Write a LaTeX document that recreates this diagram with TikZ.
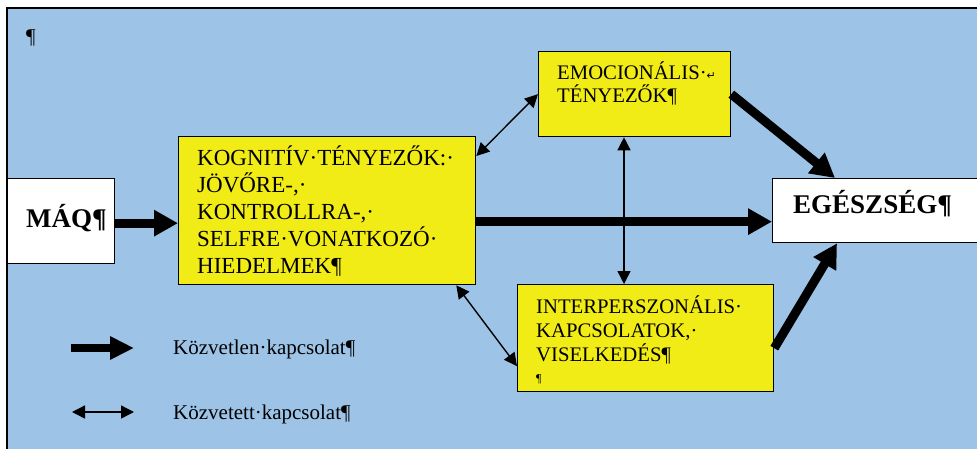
\documentclass[tikz,border=0pt]{standalone}
\usepackage{fontspec}
\setmainfont{Liberation Serif}
\newfontfamily\symfont{DejaVu Sans}
\usetikzlibrary{arrows.meta}
\definecolor{bgblue}{RGB}{157,195,230}
\definecolor{boxyellow}{RGB}{242,236,22}
\tikzset{
  box/.style={draw=black, line width=1.3pt, anchor=north west, inner sep=0pt},
  ybox/.style={box, fill=boxyellow},
  wbox/.style={box, fill=white},
  txt/.style={anchor=base west, inner sep=0pt, align=left},
  direct/.style={line width=9pt, -{Triangle[length=24pt,width=25pt]}},
  indirect/.style={line width=1.4pt, {Triangle[length=13pt,width=13pt]}-{Triangle[length=13pt,width=13pt]}},
}
\begin{document}
\begin{tikzpicture}[x=1pt,y=-1pt]
\useasboundingbox (0,0) rectangle (977,448);
\clip (0,0) rectangle (977,448);
\fill[white] (0,0) rectangle (977,448);
\draw[fill=bgblue, line width=1.5pt] (7,8) rectangle (1000,470);
\node[txt, font=\fontsize{21}{25}\selectfont] (pil) at (26,43) {¶};
% boxes
\node[wbox, minimum width=107pt, minimum height=85pt] (MAQ) at (7,178) {};
\node[ybox, minimum width=297pt, minimum height=148pt] (KOG) at (178,136) {};
\node[ybox, minimum width=192pt, minimum height=85pt] (EMO) at (538,51) {};
\node[ybox, minimum width=256pt, minimum height=107pt] (INT) at (517,284) {};
\node[wbox, minimum width=230pt, minimum height=64pt] (EGE) at (772,178) {};
% texts (base anchor = baseline of the last line)
\node[txt, font=\bfseries\fontsize{27}{30}\selectfont] (tMAQ) at (26,227) {MÁQ¶};
\node[txt, font=\bfseries\fontsize{27}{30}\selectfont] (tEGE) at (793,213) {EGÉSZSÉG¶};
\node[txt, font=\fontsize{23}{26.8}\selectfont] (tKOG) at (197,273)
  {KOGNITÍV·TÉNYEZŐK:·\\JÖVŐRE-,·\\KONTROLLRA-,·\\SELFRE·VONATKOZÓ·\\HIEDELMEK¶};
\node[txt, font=\fontsize{20.7}{23.5}\selectfont] (tEMO) at (557,102.5)
  {EMOCIONÁLIS·{\symfont\fontsize{11}{12}\selectfont ↵}\\TÉNYEZŐK¶};
\node[txt, font=\fontsize{20.7}{24}\selectfont] (tINT) at (536,361)
  {INTERPERSZONÁLIS·\\KAPCSOLATOK,·\\VISELKEDÉS¶};
\node[txt, font=\fontsize{12}{13}\selectfont] (tINT2) at (536,382) {¶};
\node[txt, font=\fontsize{21}{24}\selectfont] (tL1) at (173,354) {Közvetlen·kapcsolat¶};
\node[txt, font=\fontsize{21}{24}\selectfont] (tL2) at (173,419) {Közvetett·kapcsolat¶};
% legend arrow anchors
\coordinate (l1a) at (71,348);
\coordinate (l1b) at (134,348);
\coordinate (l2a) at (72,412);
\coordinate (l2b) at (134,412);
% indirect connections
\draw[indirect] ([yshift=-20pt]KOG.north east) -- (EMO.west);
\draw[indirect] ([xshift=-20pt]KOG.south east) -- ([yshift=-28pt]INT.west);
\draw[indirect] ([xshift=86pt]EMO.south west) -- ([xshift=86pt]EMO.south west |- INT.north);
% direct connections
\draw[direct] ([yshift=-2pt]MAQ.east) -- ([yshift=-2pt]MAQ.east -| KOG.west);
\draw[direct] ([yshift=-11pt]KOG.east) -- ([yshift=-11pt]KOG.east -| EGE.west);
\draw[direct] (EMO.east) -- ([xshift=63pt]EGE.north west);
\draw[direct] ([yshift=-10pt]INT.east) -- ([xshift=65pt]EGE.south west);
% legend
\draw[line width=8pt, -{Triangle[length=24pt,width=22pt]}] (l1a) -- (l1b);
\draw[indirect] (l2a) -- (l2b);
\end{tikzpicture}
\end{document}
